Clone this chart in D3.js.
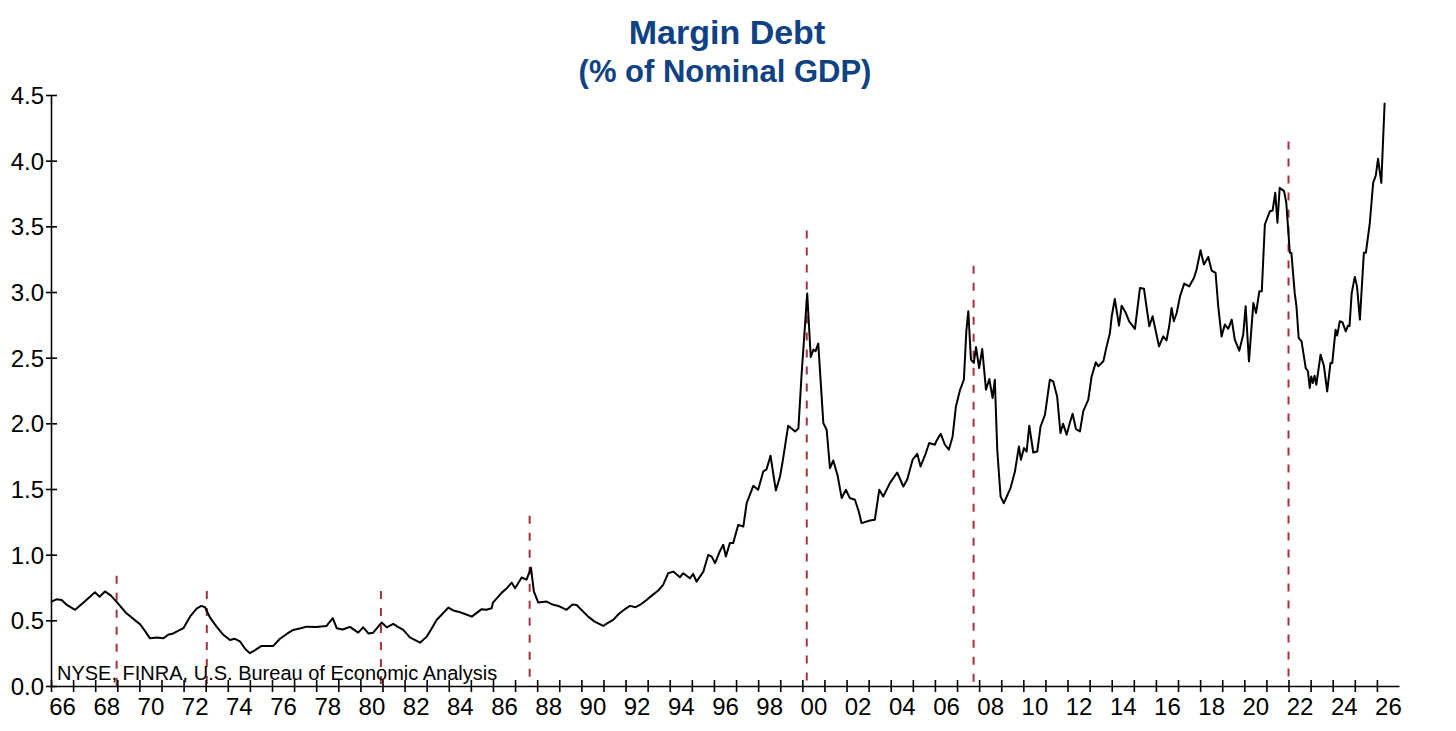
<!DOCTYPE html>
<html>
<head>
<meta charset="utf-8">
<script src="https://cdn.jsdelivr.net/npm/d3@7"></script>
<style>
  body { margin: 0; background: #fff; }
  text { font-family: "Liberation Sans", Arial, sans-serif; }
  .title { fill: #0f4282; font-weight: bold; }
  .axis text { font-size: 24px; fill: #000; }
  .axis path, .axis line { stroke: #000; stroke-width: 1.6; }
</style>
</head>
<body>
<div id="chart-area"></div>
<script>
const years = [
  1966.00, 1966.25, 1966.48, 1966.7, 1967.09, 1967.5, 1967.99, 1968.2, 1968.44, 1968.7, 1968.97,
  1969.4, 1969.88, 1970.03, 1970.25, 1970.48, 1970.8, 1971.08, 1971.3, 1971.53, 1971.99,
  1972.3, 1972.59, 1972.8, 1972.97, 1973.2, 1973.5, 1973.8, 1974.1, 1974.3, 1974.55, 1974.8,
  1975.0, 1975.2, 1975.53, 1976.06, 1976.36, 1976.7, 1976.96, 1977.3, 1977.57, 1978.0, 1978.47,
  1978.62, 1978.75, 1978.93, 1979.2, 1979.53, 1979.9, 1980.13, 1980.36, 1980.58, 1980.96,
  1981.19, 1981.49, 1981.7, 1981.94, 1982.24, 1982.7, 1983.0, 1983.2, 1983.45, 1983.98,
  1984.2, 1984.43, 1984.7, 1985.04, 1985.49, 1985.7, 1985.94, 1986.0, 1986.4, 1986.6, 1986.85,
  1987.0, 1987.3, 1987.52, 1987.72, 1987.85, 1988.05, 1988.43, 1988.7, 1989.03, 1989.33,
  1989.6, 1989.79, 1990.0, 1990.31, 1990.6, 1990.99, 1991.2, 1991.44, 1991.7, 1991.97,
  1992.2, 1992.45, 1992.65, 1992.95, 1993.2, 1993.48, 1993.7, 1993.93, 1994.16, 1994.46,
  1994.61, 1994.91, 1995.06, 1995.21, 1995.52, 1995.74, 1995.9, 1996.05, 1996.25, 1996.42,
  1996.54, 1996.72, 1996.87, 1997.1, 1997.33, 1997.48, 1997.78, 1998.0, 1998.23, 1998.38,
  1998.56, 1998.8, 1998.99, 1999.11, 1999.36, 1999.67, 1999.82, 1999.97, 2000.22, 2000.38,
  2000.5, 2000.6, 2000.72, 2000.95, 2001.1, 2001.25, 2001.4, 2001.6, 2001.78, 2001.97,
  2002.15, 2002.38, 2002.55, 2002.68, 2003.06, 2003.28, 2003.48, 2003.66, 2003.96, 2004.29,
  2004.57, 2004.75, 2004.99, 2005.2, 2005.35, 2005.59, 2005.74, 2006.0, 2006.08, 2006.26,
  2006.45, 2006.63, 2006.8, 2006.95, 2007.13, 2007.31, 2007.42, 2007.51, 2007.63, 2007.76,
  2007.86, 2008.0, 2008.14, 2008.31, 2008.46, 2008.61, 2008.71, 2008.82, 2008.97, 2009.12,
  2009.42, 2009.62, 2009.8, 2009.89, 2010.03, 2010.15, 2010.27, 2010.45, 2010.63, 2010.78,
  2010.98, 2011.2, 2011.35, 2011.53, 2011.68, 2011.8, 2011.96, 2012.1, 2012.23, 2012.38,
  2012.56, 2012.71, 2012.94, 2013.09, 2013.28, 2013.39, 2013.62, 2013.77, 2013.92, 2014.0,
  2014.14, 2014.33, 2014.45, 2014.64, 2014.79, 2015.05, 2015.28, 2015.46, 2015.7, 2015.85,
  2016.14, 2016.33, 2016.48, 2016.6, 2016.71, 2016.81, 2016.94, 2017.09, 2017.28, 2017.51,
  2017.72, 2017.84, 2018.02, 2018.17, 2018.37, 2018.52, 2018.7, 2018.82, 2018.97, 2019.12,
  2019.27, 2019.43, 2019.57, 2019.77, 2019.95, 2020.06, 2020.21, 2020.41, 2020.53, 2020.68,
  2020.79, 2020.93, 2021.16, 2021.28, 2021.4, 2021.5, 2021.6, 2021.8, 2021.9, 2022.06,
  2022.13, 2022.28, 2022.36, 2022.46, 2022.59, 2022.78, 2022.88, 2022.96, 2023.03, 2023.1,
  2023.18, 2023.26, 2023.45, 2023.6, 2023.75, 2023.9, 2023.98, 2024.13, 2024.2, 2024.32,
  2024.44, 2024.59, 2024.69, 2024.76, 2024.86, 2025.0, 2025.1, 2025.23, 2025.41, 2025.5,
  2025.68, 2025.83, 2025.95, 2026.05, 2026.2, 2026.35
];

const debtPct = [
  0.64, 0.66, 0.655, 0.62, 0.58, 0.64, 0.714, 0.68, 0.72, 0.69, 0.64,
  0.556, 0.49, 0.47, 0.42, 0.363, 0.37, 0.363, 0.39, 0.40, 0.44,
  0.53, 0.59, 0.61, 0.60, 0.52, 0.45, 0.39, 0.35, 0.36, 0.34, 0.28,
  0.25, 0.27, 0.305, 0.305, 0.36, 0.40, 0.427, 0.44, 0.452, 0.45, 0.457,
  0.49, 0.516, 0.44, 0.43, 0.45, 0.406, 0.447, 0.40, 0.406, 0.483,
  0.447, 0.473, 0.45, 0.427, 0.37, 0.33, 0.376, 0.43, 0.503, 0.597,
  0.575, 0.566, 0.55, 0.528, 0.585, 0.58, 0.592, 0.635, 0.711, 0.74, 0.787,
  0.745, 0.826, 0.81, 0.90, 0.72, 0.635, 0.643, 0.62, 0.605, 0.58,
  0.62, 0.617, 0.58, 0.528, 0.49, 0.457, 0.48, 0.503, 0.55, 0.585,
  0.61, 0.60, 0.617, 0.655, 0.69, 0.727, 0.77, 0.859, 0.871, 0.828,
  0.859, 0.82, 0.854, 0.795, 0.871, 0.998, 0.985, 0.935, 1.02, 1.075,
  0.986, 1.088, 1.088, 1.227, 1.214, 1.392, 1.524, 1.494, 1.633, 1.65,
  1.753, 1.489, 1.595, 1.71, 1.982, 1.938, 1.96, 2.383, 2.988, 2.505,
  2.561, 2.55, 2.607, 2.002, 1.951, 1.659, 1.717, 1.60, 1.431, 1.494,
  1.431, 1.418, 1.33, 1.24, 1.26, 1.265, 1.494, 1.443, 1.545, 1.626,
  1.519, 1.575, 1.723, 1.768, 1.672, 1.774, 1.85, 1.837, 1.87, 1.921,
  1.837, 1.799, 1.90, 2.129, 2.251, 2.332, 2.7, 2.853, 2.485, 2.46,
  2.581, 2.421, 2.566, 2.256, 2.338, 2.193, 2.332, 1.799, 1.443, 1.392,
  1.507, 1.633, 1.824, 1.723, 1.812, 1.785, 1.982, 1.778, 1.785, 1.976,
  2.066, 2.332, 2.32, 2.205, 1.926, 1.997, 1.913, 2.0, 2.073, 1.957,
  1.938, 2.091, 2.18, 2.357, 2.464, 2.435, 2.472, 2.586, 2.688, 2.815,
  2.947, 2.744, 2.896, 2.84, 2.777, 2.719, 3.031, 3.024, 2.739, 2.815,
  2.586, 2.662, 2.632, 2.739, 2.879, 2.777, 2.84, 2.967, 3.064, 3.043,
  3.107, 3.171, 3.318, 3.209, 3.267, 3.163, 3.145, 2.891, 2.662, 2.752,
  2.72, 2.79, 2.637, 2.553, 2.675, 2.891, 2.472, 2.917, 2.84, 3.005,
  3.005, 3.514, 3.615, 3.62, 3.755, 3.527, 3.793, 3.768, 3.679, 3.298,
  3.298, 2.993, 2.891, 2.65, 2.624, 2.421, 2.396, 2.269, 2.357, 2.307,
  2.363, 2.294, 2.523, 2.439, 2.243, 2.46, 2.46, 2.713, 2.668, 2.777,
  2.77, 2.70, 2.744, 2.74, 2.993, 3.115, 3.043, 2.79, 3.298, 3.298,
  3.527, 3.831, 3.887, 4.014, 3.831, 4.441
];

const peakYears = [1968.97, 1973.05, 1980.93, 1987.66, 2000.2, 2007.75, 2022.0];
const peakLineTops = [0.84, 0.724, 0.724, 1.296, 3.468, 3.2, 4.146];

const yTicks = [0, 0.5, 1.0, 1.5, 2.0, 2.5, 3.0, 3.5, 4.0, 4.5];
const xTickYears = d3.range(1966, 2027);
const xLabelYears = d3.range(1966, 2027, 2);

const titleLines = ["Margin Debt", "(% of Nominal GDP)"];
const sourceNote = "NYSE, FINRA, U.S. Bureau of Economic Analysis";

const chartSize = { width: 1456, height: 731 };
const margin = { left: 51, right: 57, top: 95, bottom: 45 };
const width = chartSize.width - (margin.left + margin.right);
const height = chartSize.height - (margin.top + margin.bottom);

const x = d3.scaleLinear().domain([1966, 2027]).range([0, width]);
const y = d3.scaleLinear().domain([0, 4.5]).range([height, 0]);

const initChart = function () {
    const svg = d3.select("#chart-area")
        .append("svg")
        .attr("width", chartSize.width)
        .attr("height", chartSize.height);

    svg.append("text")
        .attr("class", "title")
        .attr("x", 727)
        .attr("y", 44)
        .attr("text-anchor", "middle")
        .attr("font-size", 34)
        .text(titleLines[0]);

    svg.append("text")
        .attr("class", "title")
        .attr("x", 725)
        .attr("y", 82)
        .attr("text-anchor", "middle")
        .attr("font-size", 31)
        .text(titleLines[1]);

    return svg.append("g")
        .attr("transform", `translate(${margin.left}, ${margin.top})`);
}

const drawAxes = function (g) {
    const yAxis = d3.axisLeft(y)
        .tickValues(yTicks)
        .tickFormat(d3.format(".1f"))
        .tickSizeOuter(0);

    const yg = g.append("g").attr("class", "axis y-axis").call(yAxis);
    yg.selectAll(".tick line").attr("x1", 6).attr("x2", -5);
    yg.selectAll(".tick text").attr("x", -7).attr("dy", "0.36em");

    const xAxis = d3.axisBottom(x)
        .tickValues(xTickYears)
        .tickFormat("")
        .tickSizeOuter(0);

    const xg = g.append("g")
        .attr("class", "axis x-axis")
        .attr("transform", `translate(0, ${height})`)
        .call(xAxis);
    xg.selectAll(".tick line").attr("y1", -6).attr("y2", 6);

    const labelAxis = d3.axisBottom(x)
        .tickValues(xLabelYears.map(d => d + 0.5))
        .tickFormat(d => String(Math.floor(d) % 100).padStart(2, "0"))
        .tickSize(0);

    const lg = g.append("g")
        .attr("class", "axis")
        .attr("transform", `translate(0, ${height})`)
        .call(labelAxis);
    lg.select(".domain").remove();
    lg.selectAll(".tick text").attr("y", 12);
}

const drawPeaks = function (g) {
    g.selectAll(".peak")
        .data(peakYears)
        .enter()
        .append("line")
        .attr("class", "peak")
        .attr("x1", d => x(d))
        .attr("x2", d => x(d))
        .attr("y1", (d, i) => y(peakLineTops[i]))
        .attr("y2", y(0))
        .attr("stroke", "#a8303c")
        .attr("stroke-width", 2)
        .attr("stroke-dasharray", "8,9");
}

const drawSeries = function (g) {
    const points = years.map((yr, i) => ({ year: yr, value: debtPct[i] }));

    const line = d3.line()
        .x(d => x(d.year))
        .y(d => y(d.value));

    g.append("path")
        .attr("d", line(points))
        .attr("fill", "none")
        .attr("stroke", "#000")
        .attr("stroke-width", 2)
        .attr("stroke-linejoin", "round");

    g.append("text")
        .attr("x", 6)
        .attr("y", height - 6)
        .attr("font-size", 20)
        .attr("fill", "#000")
        .text(sourceNote);
}

const main = () => {
    const g = initChart();
    drawPeaks(g);
    drawSeries(g);
    drawAxes(g);
}

window.onload = main;
</script>
</body>
</html>
